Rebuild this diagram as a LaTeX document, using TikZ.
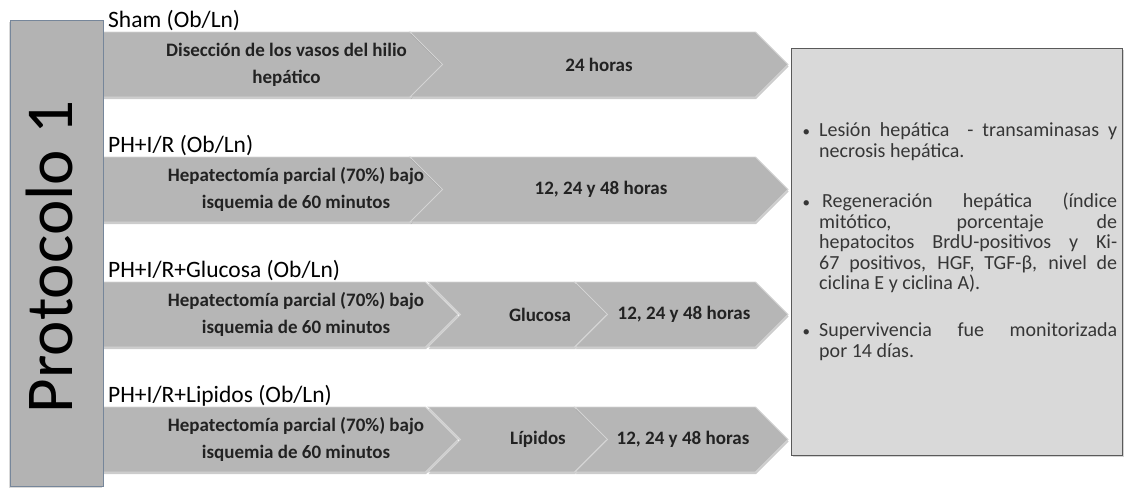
\documentclass[tikz,border=0pt]{standalone}
\usepackage{fontspec}
\setmainfont{Carlito}
\usetikzlibrary{shapes,positioning,shadows}

\definecolor{chevgray}{HTML}{B6B6B6}
\definecolor{chevedge}{HTML}{D4D4D4}
\definecolor{protofill}{HTML}{B3B3B3}
\definecolor{protoline}{HTML}{76869A}
\definecolor{infofill}{HTML}{D9D9D9}
\definecolor{infoline}{HTML}{5A5A5A}
\definecolor{bartxt}{HTML}{222222}
\definecolor{infotxt}{HTML}{363636}

\begin{document}
\begin{tikzpicture}[x=1pt, y=-1pt,
        chev/.style={signal, signal to=east, signal from=west, signal pointer angle=90,
            fill=chevgray, draw=chevedge, line width=0.9pt, minimum height=65pt, inner sep=0pt,
            drop shadow={shadow xshift=0.5pt, shadow yshift=-2pt, opacity=0.4}},
        head/.style={anchor=base west, inner sep=0pt, font=\fontsize{23.5}{26}\selectfont},
        bartext/.style={inner sep=0pt, align=center, text=bartxt,
            font=\bfseries\fontsize{19}{27}\selectfont},
        protobox/.style={draw=protoline, fill=protofill, line width=1pt,
            drop shadow={shadow xshift=-1.5pt, shadow yshift=-1.5pt, opacity=0.3}},
        infobox/.style={draw=infoline, fill=infofill, line width=1pt,
            drop shadow={shadow xshift=1.5pt, shadow yshift=-1.5pt, opacity=0.35}},
        infotext/.style={anchor=base west, inner sep=0pt, text width=316pt, align=justify,
            text=infotxt, font=\fontsize{20}{20.5}\selectfont}
    ]
        \useasboundingbox (0,0) rectangle (1126,488);

        % result box
        \node [infobox, minimum width=331pt, minimum height=407pt] (info) at (956.5,251.5) {};

        % Sham
        \node [head] (hsham) at (108,27) {Sham (Ob/Ln)};
        \node [chev, minimum width=373pt] (shamA) at (256.5,64.5) {};
        \node [chev, minimum width=378pt] (shamB) at (599,64.5) {};
        \node [bartext] (shamAt) at ([xshift=30pt]shamA.center) {Disección de los vasos del hilio\\hepático};
        \node [bartext] (shamBt) at (shamB.center) {24 horas};

        % PH+I/R
        \node [head] (hir) at (108,152) {PH+I/R (Ob/Ln)};
        \node [chev, minimum width=373pt] (irA) at (256.5,189.5) {};
        \node [chev, minimum width=378pt] (irB) at (599,189.5) {};
        \node [bartext] (irAt) at ([xshift=39.5pt]irA.center) {Hepatectomía parcial (70\%) bajo\\isquemia de 60 minutos};
        \node [bartext] (irBt) at ([xshift=2pt]irB.center) {12, 24 y 48 horas};

        % PH+I/R+Glucosa
        \node [head] (hglu) at (108,277) {PH+I/R+Glucosa (Ob/Ln)};
        \node [chev, minimum width=388pt] (gluA) at (264,314.5) {};
        \node [chev, minimum width=179pt] (gluB) at (517.5,314.5) {};
        \node [chev, minimum width=213pt] (gluC) at (681.5,314.5) {};
        \node [bartext] (gluAt) at ([xshift=32pt]gluA.center) {Hepatectomía parcial (70\%) bajo\\isquemia de 60 minutos};
        \node [bartext] (gluBt) at ([xshift=22.5pt]gluB.center) {Glucosa};
        \node [bartext] (gluCt) at ([xshift=2.5pt]gluC.center) {12, 24 y 48 horas};

        % PH+I/R+Lipidos
        \node [head] (hlip) at (108,402) {PH+I/R+Lipidos (Ob/Ln)};
        \node [chev, minimum width=388pt] (lipA) at (264,439.5) {};
        \node [chev, minimum width=179pt] (lipB) at (517.5,439.5) {};
        \node [chev, minimum width=213pt] (lipC) at (681.5,439.5) {};
        \node [bartext] (lipAt) at ([xshift=32pt]lipA.center) {Hepatectomía parcial (70\%) bajo\\isquemia de 60 minutos};
        \node [bartext] (lipBt) at ([xshift=20.5pt]lipB.center) {Lípidos};
        \node [bartext] (lipCt) at ([xshift=1.5pt]lipC.center) {12, 24 y 48 horas};

        % left column, over the chevron backs
        \node [protobox, minimum width=93pt, minimum height=466pt] (proto) at (56.5,253) {};
        \node [rotate=90, anchor=base, inner sep=0pt, font=\fontsize{67}{67}\selectfont] (title) at (72,257) {Protocolo 1};

        \node [infotext] (infot) at (801,116) {%
            \begin{list}{\fontsize{15}{15}\selectfont\textbullet}{\setlength{\leftmargin}{18pt}\setlength{\labelwidth}{10pt}%
                \setlength{\labelsep}{9pt}\setlength{\itemsep}{30pt}\setlength{\parsep}{0pt}%
                \setlength{\topsep}{0pt}\setlength{\partopsep}{0pt}}
            \item Lesión hepática\ \ - transaminasas y\linebreak necrosis hepática.
            \item \hspace{3pt}Regeneración hepática (índice\linebreak mitótico, porcentaje de\linebreak hepatocitos BrdU-positivos y Ki-\linebreak 67 positivos, HGF, TGF-β, nivel de\linebreak ciclina E y ciclina A).\vspace{-3.5pt}
            \item Supervivencia fue monitorizada\linebreak por 14 días.
            \end{list}};
    \end{tikzpicture}
\end{document}
